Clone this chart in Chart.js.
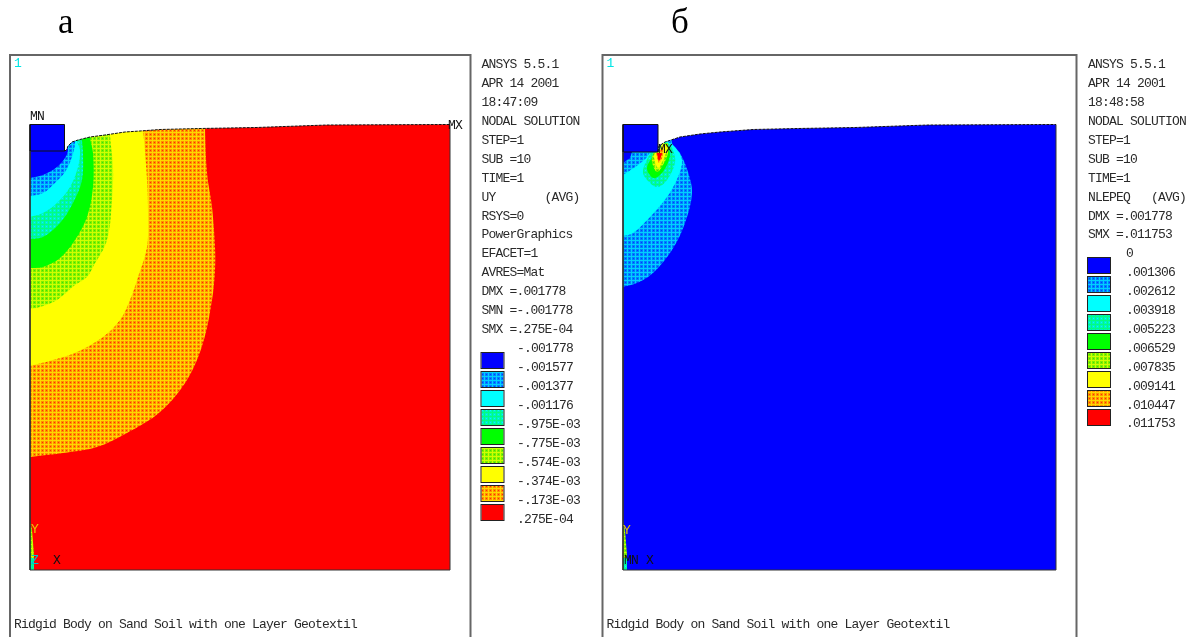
<!DOCTYPE html>
<html>
<head>
<meta charset="utf-8">
<title>ANSYS nodal solution</title>
<script src="https://cdn.jsdelivr.net/npm/chart.js@4"></script>
<style>
    html, body { margin: 0; background: #fff; overflow: hidden; }
    canvas { position: absolute; top: 0; }
</style>
</head>
<body>
<canvas id="chartA" width="595" height="637" style="left:0"></canvas>
<canvas id="chartB" width="598" height="637" style="left:595px"></canvas>
<script>
// panel a: UY contours as [x, y] from the lower left corner of the model
const surfaceA = [[34.5,419],[36.5,420],[38,424],[42,428],[48,430],[60,433],[75,435],[95,438],[110,439],[130,440.5],[170,441.5],[226,442.5],[297,445],[420,445.5]];
const blockA = [[0,419],[34.5,419],[34.5,445.5],[0,445.5]];
const domainA = [[0,0],[420,0],[420,460],[0,460]];
const orangeA = [[0,113],[33,117],[67,123],[97,137],[130,158],[157,190],[173,227],[182,270],[185,300],[185,323],[182,363],[177,397],[175,442],[175,460],[0,460]];
const yellowA = [[0,204],[23,210],[47,218],[73,233],[90,250],[100,270],[108,293],[117,323],[118,357],[117,390],[114,430],[113,440],[113,460],[0,460]];
const limeA = [[0,261],[10,263],[27,270],[45,285],[57,293],[63,303],[77,330],[82,370],[83,403],[80,435],[80,460],[0,460]];
const greenA = [[0,302],[13,303],[30,312],[45,330],[57,353],[63,383],[63,417],[60,433],[60,460],[0,460]];
const tealA = [[0,331],[13,333],[30,347],[43,367],[52,390],[53,417],[52,430],[52,460],[0,460]];
const cyanA = [[0,353],[13,357],[27,367],[40,383],[48,403],[50,420],[47,429],[47,460],[0,460]];
const skyA = [[0,374],[13,377],[25,387],[35,398],[42,413],[45,427],[45,460],[0,460]];
const blueA = [[0,392],[13,395],[27,403],[35,412],[38,420],[36,425],[0,425]];
const wedgeLime = [[0,0],[4,0],[4,15],[2,40],[0,50]];
const wedgeCyan = [[0,0],[4,0],[4,12],[0,12]];

// panel b: NLEPEQ contours
const surfaceB = [[35,418],[36,424],[42,428],[57,433],[77,436],[97,438],[130,440.5],[175,441.5],[232,442.5],[305,445],[433,445.5]];
const blockB = [[0,418],[35,418],[35,445.5],[0,445.5]];
const domainB = [[0,0],[433,0],[433,460],[0,460]];
const skyB = [[0,283],[14,287],[30,297],[49,320],[62,347],[69,377],[65,398],[57,417],[49,427],[49,460],[0,460]];
const cyanB = [[0,334],[10,337],[27,353],[44,373],[55,393],[59,410],[52,423],[45,428],[35,430],[35,418],[27,417],[24,413],[15,405],[0,395]];
const patchB = [[0,418],[9,418],[7,412],[0,407]];
const tealB = [[27,417],[20,398],[27,387],[35,383],[44,390],[52,407],[50,420],[45,427],[42,428],[35,418]];
const greenB = [[32,417],[24,402],[30,392],[37,395],[44,405],[47,415],[45,423],[42,427],[36,418]];
const limeB = [[30,417],[29,408],[34,398],[40,405],[45,417],[44,427],[36,418]];
const yellowB = [[32,417],[31,413],[35,402],[40,410],[44,422],[40,427],[36,418]];
const orangeB = [[33,417],[34,413],[36,407],[40,415],[40,423],[36,418]];
const redB = [[34,417],[36,409],[39,417],[38,417]];

const infoA = ["ANSYS 5.5.1","APR 14 2001","18:47:09","NODAL SOLUTION","STEP=1","SUB =10","TIME=1","UY       (AVG)","RSYS=0","PowerGraphics","EFACET=1","AVRES=Mat","DMX =.001778","SMN =-.001778","SMX =.275E-04"];
const infoB = ["ANSYS 5.5.1","APR 14 2001","18:48:58","NODAL SOLUTION","STEP=1","SUB =10","TIME=1","NLEPEQ   (AVG)","DMX =.001778","SMX =.011753"];
const levelsA = ["-.001778","-.001577","-.001377","-.001176","-.975E-03","-.775E-03","-.574E-03","-.374E-03","-.173E-03",".275E-04"];
const levelsB = ["0",".001306",".002612",".003918",".005223",".006529",".007835",".009141",".010447",".011753"];
const footer = "Ridgid Body on Sand Soil with one Layer Geotextil";

function stipple(line, cell, dot) {
    const tile = document.createElement("canvas");
    tile.width = 4;
    tile.height = 4;
    const c = tile.getContext("2d");
    c.fillStyle = line;
    c.fillRect(0, 0, 4, 4);
    c.fillStyle = cell;
    c.fillRect(1, 1, 3, 3);
    c.fillStyle = dot;
    c.fillRect(2, 2, 1, 1);
    return c.createPattern(tile, "repeat");
}

const fills = {
    blue: "#0000ff",
    sky: stipple("#00d0ff", "#0080ff", "#0040ff"),
    cyan: "#00ffff",
    teal: stipple("#00ff80", "#00f0c0", "#00ffff"),
    green: "#00ff00",
    lime: stipple("#d0ff00", "#80f000", "#40e000"),
    yellow: "#ffff00",
    orange: stipple("#ffd800", "#ff9000", "#ff3000"),
    red: "#ff0000"
};
const legendOrder = ["blue", "sky", "cyan", "teal", "green", "lime", "yellow", "orange", "red"];

const mono = "13px 'Liberation Mono'";

// first region in the list is painted first, so it ends up at the back
function regionDatasets(regions) {
    return regions.map((r, i) => ({
        data: r.points.map(p => ({ x: p[0], y: p[1] })),
        showLine: true,
        fill: r.stroke ? false : "shape",
        backgroundColor: r.color,
        borderColor: r.stroke || "transparent",
        borderWidth: r.stroke ? 1 : 0,
        borderDash: r.dash || [],
        pointRadius: 0,
        tension: r.smooth ? 0.35 : 0,
        clip: false,
        order: regions.length - i
    }));
}

function panelPlugin(p) {
    return {
        id: "panelText",
        afterDraw(chart) {
            const ctx = chart.ctx;
            ctx.save();
            // frame, open at the bottom edge of the picture
            ctx.strokeStyle = "#666666";
            ctx.lineWidth = 2;
            ctx.beginPath();
            ctx.moveTo(p.frameLeft, 637);
            ctx.lineTo(p.frameLeft, 55);
            ctx.lineTo(p.frameRight, 55);
            ctx.lineTo(p.frameRight, 637);
            ctx.stroke();

            ctx.fillStyle = "#000";
            ctx.font = "35px 'Liberation Serif'";
            ctx.textBaseline = "alphabetic";
            ctx.fillText(p.title, p.titleX, 33);

            ctx.textBaseline = "middle";
            ctx.font = mono;
            ctx.letterSpacing = "-0.8px";
            ctx.fillStyle = "#00e5e5";
            ctx.fillText("1", p.frameLeft + 4, 64);

            ctx.fillStyle = "#2a2a2a";
            p.info.forEach((t, i) => ctx.fillText(t, p.textX, 64.5 + i * 18.95));
            ctx.fillText(footer, p.frameLeft + 4, 625);

            p.levels.forEach((t, i) => ctx.fillText(t, p.levelX, p.levelY + i * 18.95));
            legendOrder.forEach((name, i) => {
                const y = p.swatchY + i * 19;
                ctx.fillStyle = fills[name];
                ctx.fillRect(p.textX, y, 22, 15);
                ctx.strokeStyle = "#222";
                ctx.lineWidth = 1;
                ctx.strokeRect(p.textX - 0.5, y - 0.5, 23, 16);
            });

            p.marks.forEach(m => {
                ctx.fillStyle = m[3];
                ctx.fillText(m[0], m[1], m[2]);
            });
            ctx.restore();
        }
    };
}

function makeChart(id, regions, width, padding, plugin) {
    return new Chart(document.getElementById(id).getContext("2d"), {
        type: "scatter",
        data: { datasets: regionDatasets(regions) },
        options: {
            responsive: false,
            animation: false,
            layout: { padding: padding },
            plugins: { legend: { display: false }, tooltip: { enabled: false } },
            scales: {
                x: { type: "linear", display: false, min: 0, max: width },
                y: { type: "linear", display: false, min: 0, max: 460 }
            }
        },
        plugins: [plugin]
    });
}

const maskA = [[0,445.5],[34.5,445.5]].concat(surfaceA, [[420,460],[0,460]]);
const maskB = [[0,445.5],[35,445.5]].concat(surfaceB, [[433,460],[0,460]]);

makeChart("chartA", [
    { points: domainA, color: fills.red },
    { points: orangeA, color: fills.orange, smooth: true },
    { points: yellowA, color: fills.yellow, smooth: true },
    { points: limeA, color: fills.lime, smooth: true },
    { points: greenA, color: fills.green, smooth: true },
    { points: tealA, color: fills.teal, smooth: true },
    { points: cyanA, color: fills.cyan, smooth: true },
    { points: skyA, color: fills.sky, smooth: true },
    { points: blueA, color: fills.blue, smooth: true },
    { points: wedgeLime, color: fills.lime },
    { points: wedgeCyan, color: fills.teal },
    { points: maskA, color: "#ffffff" },
    { points: blockA, color: fills.blue },
    { points: surfaceA, color: "transparent", stroke: "#111", dash: [3, 1] },
    { points: blockA.concat([blockA[0]]), color: "transparent", stroke: "#111" },
    { points: [[0,419],[0,0],[420,0],[420,445.5]], color: "transparent", stroke: "#333" }
], 420, { left: 30, right: 145, top: 110, bottom: 67 }, panelPlugin({
    title: "а", titleX: 58, frameLeft: 10, frameRight: 470.5,
    info: infoA, levels: levelsA, textX: 481.5, levelX: 517, levelY: 349,
    swatchY: 353,
    marks: [["MN", 30, 117, "#111"], ["MX", 448, 126, "#111"], ["Y", 31, 530, "#e8c800"], ["Z", 31, 561, "#00c8c8"], ["X", 53, 561, "#111"]]
}));

makeChart("chartB", [
    { points: domainB, color: fills.blue },
    { points: skyB, color: fills.sky, smooth: true },
    { points: cyanB, color: fills.cyan, smooth: true },
    { points: patchB, color: fills.blue },
    { points: tealB, color: fills.teal, smooth: true },
    { points: greenB, color: fills.green, smooth: true },
    { points: limeB, color: fills.lime, smooth: true },
    { points: yellowB, color: fills.yellow, smooth: true },
    { points: orangeB, color: fills.orange, smooth: true },
    { points: redB, color: fills.red, smooth: true },
    { points: wedgeLime, color: fills.lime },
    { points: wedgeCyan, color: fills.teal },
    { points: maskB, color: "#ffffff" },
    { points: blockB, color: fills.blue },
    { points: surfaceB, color: "transparent", stroke: "#111", dash: [3, 1] },
    { points: blockB.concat([blockB[0]]), color: "transparent", stroke: "#111" },
    { points: [[0,418],[0,0],[433,0],[433,445.5]], color: "transparent", stroke: "#333" }
], 433, { left: 28, right: 137, top: 110, bottom: 67 }, panelPlugin({
    title: "б", titleX: 76, frameLeft: 7.5, frameRight: 481.5,
    info: infoB, levels: levelsB, textX: 493, levelX: 531, levelY: 253.5,
    swatchY: 258,
    marks: [["MX", 63, 150, "#111"], ["Y", 28, 531, "#e8c800"], ["MN", 29, 561, "#111"], ["X", 51, 561, "#111"]]
}));
</script>
</body>
</html>
